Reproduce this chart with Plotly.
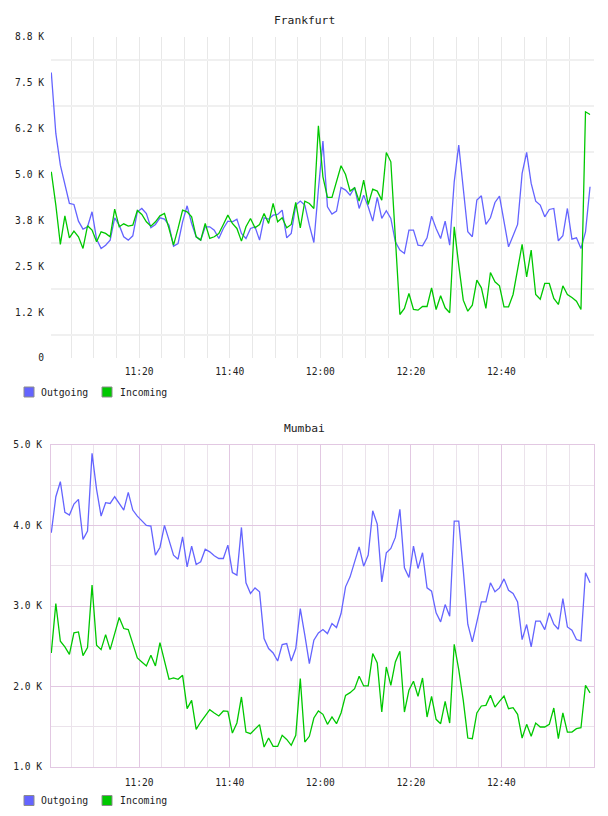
import plotly.graph_objects as go
import pandas as pd

# ---------------- data ----------------
start_time = "2024-01-01 11:00:35"
n_points = 120
series_names = ["Outgoing", "Incoming"]
chart_titles = ["Frankfurt", "Mumbai"]

frankfurt_outgoing = [7784, 6121, 5257, 4757, 4212, 4185, 3730, 3512, 3576, 3985,
    3240, 2986, 3076, 3213, 3822, 3621, 3304, 3213, 3331, 3985,
    4076, 3940, 3549, 3640, 3822, 3785, 3621, 3049, 3122, 3713,
    4149, 3667, 3304, 3213, 3576, 3576, 3485, 3258, 3531, 3730,
    3713, 3785, 3395, 3258, 3531, 3576, 3213, 3822, 3785, 3894,
    3912, 4031, 3276, 3395, 4167, 4276, 4167, 3621, 3149, 4600,
    5912, 4122, 3922, 4004, 4649, 4576, 4440, 4649, 4076, 4440,
    4122, 3731, 4376, 3804, 4013, 3804, 3167, 2940, 2849, 3486,
    3486, 3077, 3058, 3277, 3867, 3531, 3258, 3731, 3077, 4803,
    5803, 4621, 3440, 3304, 4303, 4422, 3640, 3822, 4240, 4413,
    3713, 3031, 3331, 3640, 5030, 5603, 4758, 4276, 4167, 3849,
    4049, 4076, 3195, 3331, 4076, 3240, 3277, 2986, 3440, 4667]

frankfurt_incoming = [5076, 4167, 3095, 3876, 3276, 3458, 3304, 2986, 3604, 3486,
    3167, 3440, 3395, 3304, 4058, 3576, 3658, 3595, 3622, 4022,
    3912, 3713, 3595, 3713, 3876, 3940, 3531, 3076, 3531, 4031,
    3985, 3849, 3304, 3213, 3667, 3258, 3304, 3395, 3640, 3894,
    3667, 3531, 3186, 3576, 3804, 3549, 3640, 3940, 3667, 4212,
    3713, 3822, 3549, 3640, 4240, 3549, 4276, 4212, 4076, 6330,
    4939, 4376, 4376, 4803, 5239, 5003, 4549, 4640, 4276, 4849,
    4185, 4603, 4549, 4303, 5603, 5348, 3200, 1186, 1350, 1759,
    1322, 1304, 1404, 1404, 1913, 1322, 1695, 1368, 1232, 3576,
    2532, 1577, 1277, 1441, 2122, 1913, 1350, 2331, 2077, 1968,
    1395, 1395, 1732, 2395, 3095, 2213, 2940, 1732, 1604, 2032,
    2032, 1622, 1459, 1968, 1732, 1650, 1550, 1322, 6711, 6639]

mumbai_outgoing = [3910, 4357, 4544, 4163, 4129, 4266, 4324, 3827, 3930, 4896,
    4449, 4117, 4283, 4274, 4357, 4274, 4192, 4411, 4192, 4117,
    4055, 4001, 3993, 3632, 3727, 4001, 3818, 3632, 3582, 3860,
    3487, 3744, 3516, 3549, 3706, 3673, 3624, 3590, 3590, 3756,
    3416, 3383, 3976, 3288, 3155, 3225, 3176, 2595, 2471, 2417,
    2317, 2521, 2533, 2317, 2471, 2968, 2637, 2284, 2575, 2666,
    2707, 2657, 2782, 2732, 2906, 3238, 3362, 3549, 3735, 3495,
    3632, 4183, 4017, 3300, 3661, 3715, 3852, 4200, 3475, 3354,
    3744, 3466, 3661, 3225, 3184, 2915, 2803, 3018, 2873, 4055,
    4055, 3445, 2774, 2554, 2824, 3051, 3051, 3288, 3176, 3225,
    3337, 3196, 3155, 3051, 2583, 2770, 2492, 2811, 2811, 2707,
    2915, 2774, 2711, 3093, 2740, 2699, 2583, 2566, 3412, 3288]

mumbai_incoming = [2417, 3031, 2562, 2492, 2400, 2666, 2678, 2384, 2483, 3259,
    2512, 2458, 2645, 2458, 2657, 2857, 2720, 2707, 2533, 2355,
    2305, 2255, 2388, 2255, 2546, 2326, 2090, 2106, 2090, 2139,
    1725, 1828, 1468, 1559, 1642, 1712, 1671, 1634, 1696, 1692,
    1422, 1547, 1870, 1434, 1414, 1476, 1526, 1248, 1360, 1256,
    1256, 1393, 1343, 1269, 1393, 2098, 1310, 1381, 1609, 1696,
    1654, 1530, 1621, 1538, 1671, 1890, 1924, 1973, 2127, 2007,
    2007, 2409, 2293, 1683, 2243, 2015, 2305, 2438, 1683, 1953,
    2065, 1878, 2106, 1621, 1878, 1592, 1538, 1816, 1546, 2525,
    2210, 1828, 1360, 1352, 1671, 1758, 1766, 1890, 1745, 1816,
    1882, 1725, 1737, 1654, 1360, 1530, 1381, 1546, 1497, 1497,
    1530, 1733, 1352, 1671, 1434, 1434, 1476, 1488, 2015, 1920]

x_tick_vals = ["2024-01-01 11:20", "2024-01-01 11:40", "2024-01-01 12:00",
               "2024-01-01 12:20", "2024-01-01 12:40"]
x_tick_text = ["11:20", "11:40", "12:00", "12:20", "12:40"]
x_minor_vals = [str(t) for t in pd.date_range("2024-01-01 11:05", "2024-01-01 12:55", freq="5min")]
x_range = ["2024-01-01 11:00:31", "2024-01-01 13:00:21"]

top_y_vals = [0, 1250, 2500, 3750, 5000, 6250, 7500, 8750]
top_y_text = ["0", "1.2 K", "2.5 K", "3.8 K", "5.0 K", "6.2 K", "7.5 K", "8.8 K"]
top_y_minor = [625, 1875, 3125, 4375, 5625, 6875, 8125]

bot_y_vals = [1000, 2000, 3000, 4000, 5000]
bot_y_text = ["1.0 K", "2.0 K", "3.0 K", "4.0 K", "5.0 K"]
bot_y_minor = [1500, 2500, 3500, 4500]

# ---------------- style ----------------
W, H = 608, 816
BLUE = "#6464ff"
GREEN = "#00c800"
MONO = "DejaVu Sans Mono"
TXT = "#222222"

times = pd.date_range(start_time, periods=n_points, freq="1min")

def py(p):  # pixel y -> paper
    return 1 - p / H

def px(p):
    return p / W

fig = go.Figure()
for vals, color, name in [(frankfurt_outgoing, BLUE, series_names[0]),
                          (frankfurt_incoming, GREEN, series_names[1])]:
    fig.add_trace(go.Scatter(x=times, y=vals, mode="lines", name=name,
                             line=dict(color=color, width=1.3),
                             xaxis="x", yaxis="y"))
for vals, color, name in [(mumbai_outgoing, BLUE, series_names[0]),
                          (mumbai_incoming, GREEN, series_names[1])]:
    fig.add_trace(go.Scatter(x=times, y=vals, mode="lines", name=name,
                             line=dict(color=color, width=1.3),
                             xaxis="x2", yaxis="y2"))

xdom = [px(51), px(593.5)]
tickfont = dict(family=MONO, size=9.6, color=TXT)

common_x = dict(type="date", range=x_range, domain=xdom, tickmode="array",
                tickvals=x_tick_vals, ticktext=x_tick_text, tickfont=tickfont,
                ticks="", zeroline=False, ticklabelstandoff=6, automargin=False)

TOP_GRID = "#e8e8e8"
TOP_HGRID = "#f0f0f0"
PINK = "#e2c8e2"
LIGHT = "#ebe3eb"

fig.update_layout(
    width=W, height=H, autosize=False, margin=dict(l=0, r=0, t=0, b=0, pad=0),
    paper_bgcolor="white", plot_bgcolor="white", showlegend=False,
    xaxis=dict(**common_x, anchor="y", showgrid=True, gridcolor=TOP_GRID, gridwidth=1,
               showline=False,
               minor=dict(tickmode="array", tickvals=x_minor_vals, showgrid=True,
                          gridcolor=TOP_GRID, gridwidth=1, ticks="")),
    yaxis=dict(domain=[py(358), py(37)], range=[0, 8750], tickmode="array",
               tickvals=top_y_vals, ticktext=top_y_text, tickfont=tickfont,
               showgrid=False, zeroline=False, showline=False, ticks="",
               ticklabelstandoff=6, automargin=False,
               minor=dict(tickmode="array", tickvals=top_y_minor, showgrid=True,
                          gridcolor=TOP_HGRID, gridwidth=2, ticks="")),
    xaxis2=dict(**common_x, anchor="y2", showgrid=True, gridcolor=PINK, gridwidth=1,
                showline=True, mirror=True, linecolor=PINK, linewidth=1,
                minor=dict(tickmode="array", tickvals=x_minor_vals, showgrid=True,
                           gridcolor=LIGHT, gridwidth=1, ticks="")),
    yaxis2=dict(domain=[py(767), py(445)], range=[1000, 5000], tickmode="array",
                tickvals=bot_y_vals, ticktext=bot_y_text, tickfont=tickfont,
                showgrid=True, gridcolor=PINK, gridwidth=1, zeroline=False,
                showline=True, mirror=True, linecolor=PINK, linewidth=1, ticks="",
                ticklabelstandoff=6, automargin=False,
                minor=dict(tickmode="array", tickvals=bot_y_minor, showgrid=True,
                           gridcolor=LIGHT, gridwidth=1, ticks="")),
)

annotations = []
shapes = []
for title, ty in zip(chart_titles, [20.5, 428.5]):
    annotations.append(dict(text=title, x=0.5, y=py(ty), xref="paper", yref="paper",
                            xanchor="center", yanchor="middle", showarrow=False,
                            font=dict(family=MONO, size=11.3, color=TXT)))

for ly in [392, 800.5]:
    for (sx, tx), name, color in zip([(24, 39), (102, 118)], series_names, [BLUE, GREEN]):
        shapes.append(dict(type="rect", xref="paper", yref="paper",
                           x0=px(sx), x1=px(sx + 10), y0=py(ly + 5), y1=py(ly - 5),
                           fillcolor=color, line=dict(color="#8c8c8c", width=1)))
        annotations.append(dict(text=name, x=px(tx), y=py(ly), xref="paper", yref="paper",
                                xanchor="left", yanchor="middle", showarrow=False,
                                font=dict(family=MONO, size=9.8, color=TXT)))

fig.update_layout(annotations=annotations, shapes=shapes)
fig.write_html("out.html", config={"responsive": False})
